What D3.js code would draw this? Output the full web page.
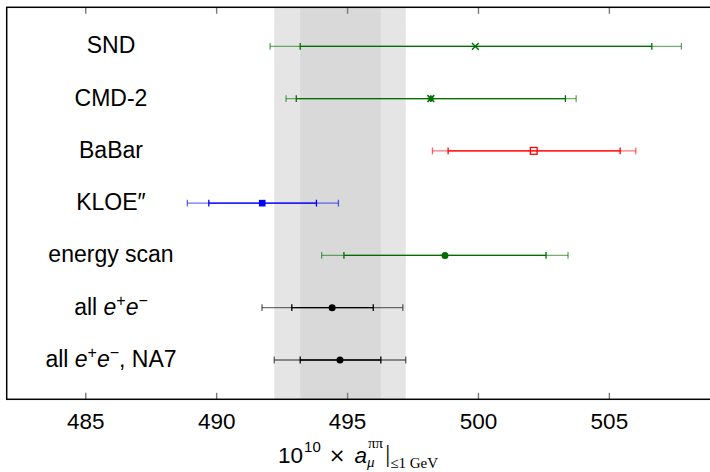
<!DOCTYPE html>
<html>
<head>
<meta charset="utf-8">
<script src="https://cdn.jsdelivr.net/npm/d3@7"></script>
<style>
  body { margin: 0; background: #fff; }
  svg { display: block; font-family: "Liberation Sans", Arial, Helvetica, sans-serif; }
</style>
</head>
<body>
<div id="chart"></div>
<script>
// measurements, one entry per row (top to bottom)
const labels = ["SND", "CMD-2", "BaBar", "KLOE″", "energy scan", "all e+e−", "all e+e−, NA7"]
const centers = [499.90, 498.20, 502.13, 491.76, 498.74, 494.43, 494.73]
const innerLo = [493.21, 493.06, 498.86, 489.72, 494.88, 492.89, 493.21]
const innerHi = [506.64, 503.34, 505.43, 493.83, 502.60, 496.00, 496.29]
const outerLo = [492.06, 492.67, 498.26, 488.90, 494.03, 491.75, 492.22]
const outerHi = [507.77, 503.75, 506.03, 494.67, 503.44, 497.13, 497.24]
const colors = ["#006e00", "#006e00", "#ff0000", "#0000ff", "#006e00", "#000000", "#000000"]
const markers = ["cross", "asterisk", "openSquare", "square", "circle", "circle", "circle"]

// shaded bands (NA7 combination)
const bandOuter = [492.22, 497.24]
const bandInner = [493.21, 496.29]

const tickValues = [485, 490, 495, 500, 505]
const xDomain = [482, 509]

const W = 710, H = 472
const frame = { left: 6.7, top: 7.3, right: 713.6, bottom: 399.3 }
const fontSize = 23
const serif = "'Liberation Serif', 'DejaVu Serif', serif"

const svg = d3.select("#chart").append("svg")
  .attr("width", W)
  .attr("height", H)

const x = d3.scaleLinear().domain(xDomain).range([frame.left, frame.right])
const y = d3.scalePoint().domain(labels).range([46.3, 360]).padding(0)

//bands
svg.append("rect")
  .attr("x", x(bandOuter[0])).attr("y", frame.top)
  .attr("width", x(bandOuter[1]) - x(bandOuter[0]))
  .attr("height", frame.bottom - frame.top)
  .attr("fill", "#e5e5e5")
svg.append("rect")
  .attr("x", x(bandInner[0])).attr("y", frame.top)
  .attr("width", x(bandInner[1]) - x(bandInner[0]))
  .attr("height", frame.bottom - frame.top)
  .attr("fill", "#d9d9d9")

//axes
const bottomAxis = svg.append("g")
  .attr("transform", "translate(0," + frame.bottom + ")")
  .call(d3.axisBottom(x).tickValues(tickValues).tickSize(-6.5).tickPadding(14))
svg.append("g")
  .attr("transform", "translate(0," + frame.top + ")")
  .call(d3.axisTop(x).tickValues(tickValues).tickSize(-6.5).tickFormat(""))

svg.selectAll(".domain").remove()
svg.selectAll(".tick line").attr("stroke", "#7a7a7a").attr("stroke-width", 1.4)
bottomAxis.selectAll(".tick text")
  .attr("font-size", 22.5)
  .attr("font-family", "'Liberation Sans', Arial, sans-serif")
  .attr("fill", "#000")

//frame
svg.append("rect")
  .attr("x", frame.left).attr("y", frame.top)
  .attr("width", frame.right - frame.left)
  .attr("height", frame.bottom - frame.top)
  .attr("fill", "none")
  .attr("stroke", "#000")
  .attr("stroke-width", 1.5)

//row labels
const rows = labels.map((l, i) => ({
  label: l, c: centers[i], il: innerLo[i], ih: innerHi[i],
  ol: outerLo[i], oh: outerHi[i], color: colors[i], marker: markers[i]
}))

const labelText = svg.append("g").selectAll("text")
  .data(rows)
  .join("text")
  .attr("x", 111)
  .attr("y", d => y(d.label) + 7)
  .attr("text-anchor", "middle")
  .attr("font-size", fontSize)
  .attr("fill", "#000")

labelText.each(function(d) {
  const t = d3.select(this)
  if (d.label.indexOf("e+e−") < 0) {
    t.text(d.label)
    return
  }
  const parts = d.label.split("e+e−")
  t.append("tspan").text(parts[0])
  t.append("tspan").attr("font-style", "italic").text("e")
  t.append("tspan").attr("font-size", 16).attr("dy", -9).text("+")
  t.append("tspan").attr("font-style", "italic").attr("dy", 9).text("e")
  t.append("tspan").attr("font-size", 16).attr("dy", -9).text("−")
  t.append("tspan").attr("dy", 9).text(parts[1])
})

//error bars
const capH = 3.4
const bars = svg.append("g").selectAll("g")
  .data(rows)
  .join("g")
  .attr("stroke", d => d.color)
  .attr("stroke-width", 1.3)

bars.append("line")
  .attr("opacity", 0.55)
  .attr("x1", d => x(d.ol)).attr("x2", d => x(d.oh))
  .attr("y1", d => y(d.label)).attr("y2", d => y(d.label))
bars.append("line")
  .attr("x1", d => x(d.il)).attr("x2", d => x(d.ih))
  .attr("y1", d => y(d.label)).attr("y2", d => y(d.label))

bars.each(function(d) {
  const g = d3.select(this)
  const yy = y(d.label)
  ;[[d.ol, 0.6], [d.oh, 0.6], [d.il, 1], [d.ih, 1]].forEach(([v, op]) => {
    g.append("line")
      .attr("opacity", op)
      .attr("x1", x(v)).attr("x2", x(v))
      .attr("y1", yy - capH).attr("y2", yy + capH)
  })

  const cx = x(d.c)
  const s = 3.4
  if (d.marker === "cross" || d.marker === "asterisk") {
    g.append("path")
      .attr("stroke-width", d.marker === "asterisk" ? 1.6 : 1.4)
      .attr("d", `M${cx - s},${yy - s}L${cx + s},${yy + s}M${cx - s},${yy + s}L${cx + s},${yy - s}` +
        (d.marker === "asterisk" ? `M${cx - s},${yy}L${cx + s},${yy}M${cx},${yy - s}L${cx},${yy + s}` : ""))
  } else if (d.marker === "openSquare") {
    g.append("rect")
      .attr("x", cx - 3.4).attr("y", yy - 3.4)
      .attr("width", 6.8).attr("height", 6.8)
      .attr("fill", "none")
  } else if (d.marker === "square") {
    g.append("rect")
      .attr("x", cx - 3.3).attr("y", yy - 3.3)
      .attr("width", 6.6).attr("height", 6.6)
      .attr("fill", d.color).attr("stroke", "none")
  } else {
    g.append("circle")
      .attr("cx", cx).attr("cy", yy).attr("r", 3.5)
      .attr("fill", d.color).attr("stroke", "none")
  }
})

//x axis title, laid out piece by piece then centred
const title = svg.append("g")
let cursor = 0
const piece = (txt, opts) => {
  const t = title.append("text")
    .attr("x", cursor + (opts.dx || 0))
    .attr("y", opts.y)
    .attr("font-size", opts.size)
    .attr("font-family", opts.family || null)
    .attr("font-style", opts.italic ? "italic" : null)
    .attr("fill", "#000")
    .text(txt)
  return t.node().getComputedTextLength() + (opts.dx || 0)
}
cursor += piece("10", { y: 463, size: 22.5 })
cursor += piece("10", { y: 452, size: 15, dx: 1 })
cursor += 8
cursor += piece("×", { y: 462, size: 20, family: "'DejaVu Sans', sans-serif" })
cursor += 9
cursor += piece("a", { y: 463, size: 22.5, italic: true })
const wpp = piece("ππ", { y: 448, size: 15, family: serif, dx: 1 })
const wmu = piece("μ", { y: 467, size: 15, family: serif, italic: true })
cursor += Math.max(wpp, wmu) + 2
cursor += piece("|", { y: 462, size: 25, family: serif })
cursor += piece("≤1 GeV", { y: 468, size: 15, family: serif })
title.attr("transform", "translate(" + (358 - cursor / 2) + ",0)")
</script>
</body>
</html>
